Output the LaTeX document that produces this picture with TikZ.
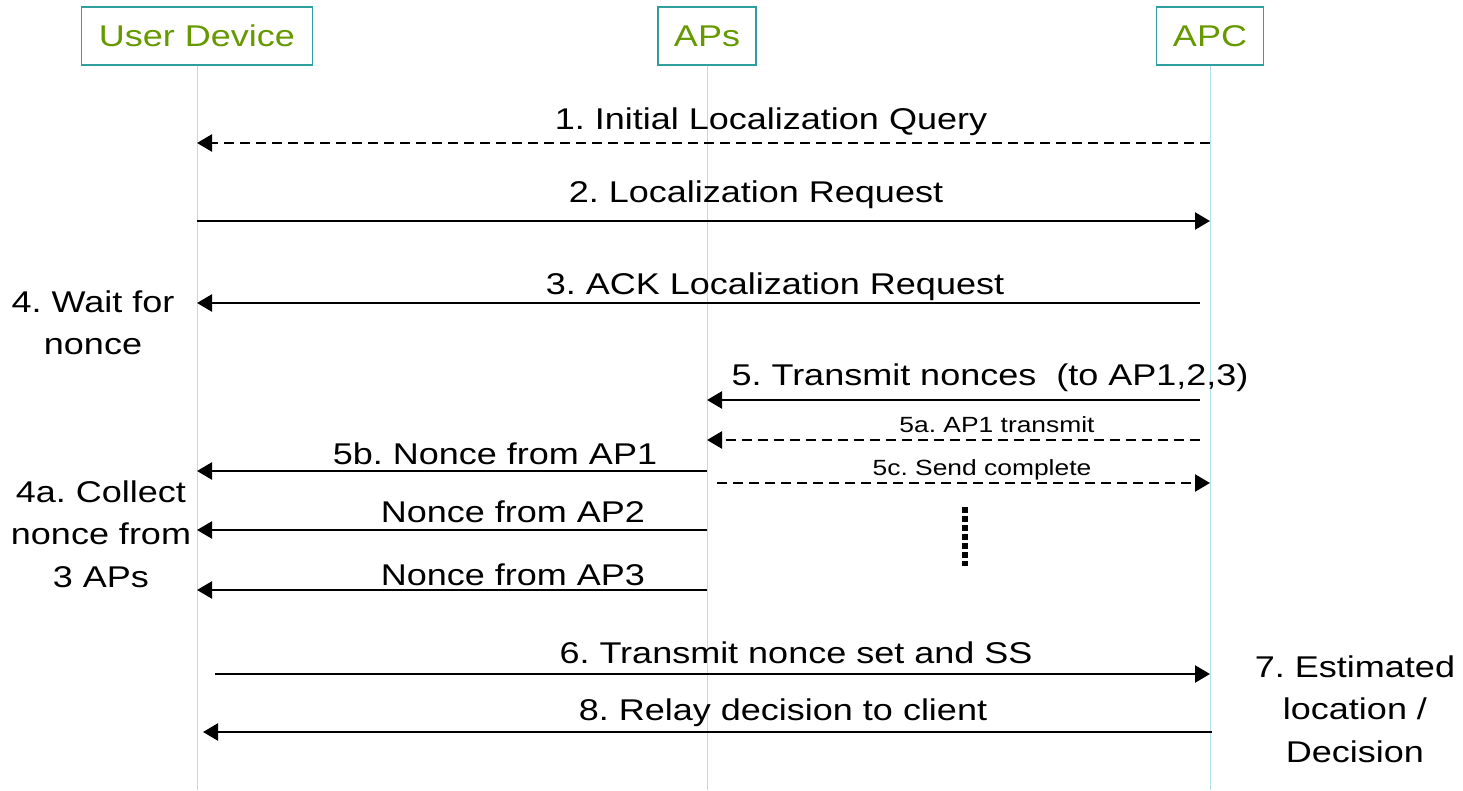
\documentclass[tikz,border=0pt]{standalone}
\usepackage{fontspec}
\setmainfont{Liberation Sans}[FakeStretch=1.2]
\usepackage{tikz}
\usetikzlibrary{arrows.meta,positioning}
\definecolor{actortext}{HTML}{669900}
\definecolor{actorline}{HTML}{2E9E9E}
\definecolor{lifecol}{HTML}{B4E1E6}
\frenchspacing

\begin{document}
\begin{tikzpicture}[x=0.5pt,y=-0.5pt,
  actor/.style={draw=actorline,line width=0.6pt,text=actortext,minimum height=29pt,inner sep=0pt,font=\fontsize{15}{18}\selectfont},
  lifeline/.style={draw=lifecol,line width=0.5pt},
  msg/.style={-{Triangle[length=7.5pt,width=8.5pt]},line width=1.2pt},
  reply/.style={msg,dash pattern=on 5pt off 3pt},
  lbl/.style={anchor=base,inner sep=0pt,font=\fontsize{15}{18}\selectfont},
  small lbl/.style={lbl,font=\fontsize{11}{13}\selectfont},
  note/.style={anchor=base,align=center,inner sep=0pt,font=\fontsize{15}{21.25}\selectfont}]

\useasboundingbox (0,0) rectangle (1463,791);

% actors and lifelines
\node[actor,minimum width=115.5pt] (ud) at (197,36) {User Device};
\node[actor,minimum width=49pt] (ap) at (707,36) {APs};
\node[actor,minimum width=53.5pt] (apc) at (1210,36) {APC};
\coordinate (ud-end) at (197,790);
\coordinate (ap-end) at (707,790);
\coordinate (apc-end) at (1210,790);
\draw[lifeline] (ud) -- (ud-end);
\draw[lifeline] (ap) -- (ap-end);
\draw[lifeline] (apc) -- (apc-end);

% messages
\draw[reply] (apc |- 0,143) -- (ud |- 0,143);
\node[lbl] (m1) at (771,130) {1. Initial Localization Query};
\draw[msg] (ud |- 0,221) -- (apc |- 0,221);
\node[lbl] (m2) at (756,203) {2. Localization Request};
\draw[msg] ([xshift=-5pt]apc |- 0,303) -- (ud |- 0,303);
\node[lbl] (m3) at (775,295) {3. ACK Localization Request};
\node[note] (n4) at (93,355) {4. Wait for\\nonce};

\draw[msg] ([xshift=-5pt]apc |- 0,400) -- (ap |- 0,400);
\node[lbl] (m5) at (990,386) {5. Transmit nonces~ (to AP1,2,3)};
\draw[reply] ([xshift=-5pt]apc |- 0,440) -- (ap |- 0,440);
\node[small lbl] (m5a) at (997,432) {5a. AP1 transmit};
\draw[msg] (ap |- 0,471) -- (ud |- 0,471);
\node[lbl] (m5b) at (495,465) {5b. Nonce from AP1};
\draw[reply] ([xshift=5pt]ap |- 0,483) -- (apc |- 0,483);
\node[small lbl] (m5c) at (982,475) {5c. Send complete};
\draw[msg] (ap |- 0,530) -- (ud |- 0,530);
\node[lbl] (m-ap2) at (513,523) {Nonce from AP2};
\draw[msg] (ap |- 0,590) -- (ud |- 0,590);
\node[lbl] (m-ap3) at (513,585) {Nonce from AP3};
\node[note] (n4a) at (101,587) {4a. Collect\\nonce from\\3 APs};

% more nonces
\draw[line width=3pt,dash pattern=on 3pt off 1.5pt] (965,507) -- (965,566);

\draw[msg] ([xshift=9pt]ud |- 0,674) -- (apc |- 0,674);
\node[lbl] (m6) at (796,663) {6. Transmit nonce set and SS};
\draw[msg] ([xshift=1pt]apc |- 0,732) -- ([xshift=3pt]ud |- 0,732);
\node[lbl] (m8) at (783,720) {8. Relay decision to client};
\node[note] (n7) at (1355,762) {7. Estimated\\location /\\Decision};
\end{tikzpicture}
\end{document}
